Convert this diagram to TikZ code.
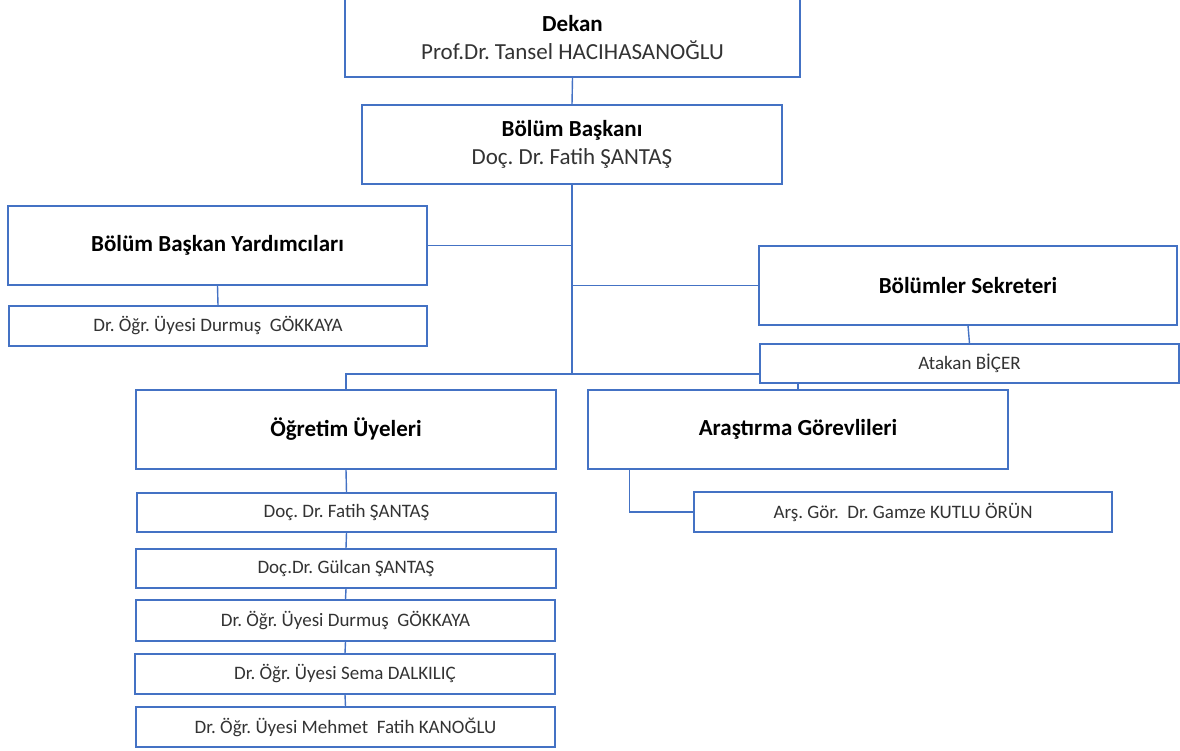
\documentclass[tikz,border=0pt]{standalone}
\usepackage{fontspec}
\setmainfont{Carlito}
\usetikzlibrary{backgrounds}
\definecolor{ofblue}{HTML}{4472C4}
\definecolor{txt}{HTML}{333333}
\newcommand{\hdtext}[1]{\textcolor{black}{\textbf{#1}}}
\frenchspacing
\tikzset{
  box/.style={draw=ofblue, line width=1.4pt, fill=white, rectangle, inner sep=0pt, align=center, text=txt},
  bigbox/.style={box, minimum height=79pt},
  smallbox/.style={box, minimum height=40pt, font=\fontsize{19}{22}\selectfont},
  head/.style={font=\fontsize{23}{28}\selectfont},
  conn/.style={draw=ofblue, line width=1.4pt}
}
\begin{document}
\begin{tikzpicture}[x=1pt,y=-1pt]
\frenchspacing
\useasboundingbox (0,0) rectangle (1180,751);
% main boxes
\node[bigbox, head, minimum width=455pt, minimum height=78pt] (dekan) at (572.5,38) {\hdtext{Dekan}\\Prof.Dr. Tansel HACIHASANOĞLU};
\node[bigbox, head, minimum width=420pt] (bb) at (572,144.5) {\hdtext{Bölüm Başkanı}\\Doç. Dr. Fatih ŞANTAŞ};
\node[bigbox, head, minimum width=419pt] (bby) at (217.5,245.5) {\hdtext{Bölüm Başkan Yardımcıları}};
\node[smallbox, minimum width=418pt] (bbyd) at (218,326) {Dr. Öğr. Üyesi Durmuş\ \ GÖKKAYA};
\node[bigbox, head, minimum width=418pt] (bs) at (968,285.5) {\hdtext{Bölümler Sekreteri}};
\node[smallbox, minimum width=419pt, minimum height=39pt] (atakan) at (969.5,363.5) {Atakan BİÇER};
\node[bigbox, head, minimum width=420pt] (ou) at (346,429.5) {\hdtext{Öğretim Üyeleri}};
\node[bigbox, head, minimum width=420pt] (ag) at (798,429.5) {\hdtext{Araştırma Görevlileri}};
\node[smallbox, minimum width=418pt] (gamze) at (903,512) {Arş. Gör.\ \ Dr. Gamze KUTLU ÖRÜN};
\node[smallbox, minimum width=419pt, minimum height=39pt] (m1) at (346.5,512.5) {Doç. Dr. Fatih ŞANTAŞ};
\node[smallbox, minimum width=420pt, minimum height=39pt] (m2) at (346,568.5) {Doç.Dr.\ Gülcan ŞANTAŞ};
\node[smallbox, minimum width=419pt, minimum height=41pt] (m3) at (345.5,620.5) {Dr. Öğr. Üyesi Durmuş\ \ GÖKKAYA};
\node[smallbox, minimum width=420pt] (m4) at (345,674) {Dr. Öğr. Üyesi Sema DALKILIÇ};
\node[smallbox, minimum width=419pt] (m5) at (345.5,727) {Dr. Öğr. Üyesi Mehmet\ \ Fatih KANOĞLU};
\coordinate (bar) at (572,374);
\begin{scope}[on background layer]
\draw[conn] (dekan.south) -- (bb.north);
\draw[conn] (bb.south) -- (bar);
\draw[conn] (bby.east) -- (bby.east -| bb.south);
\draw[conn] (bs.west) -- (bs.west -| bb.south);
\draw[conn] (bby.south) -- (bbyd.north);
\draw[conn] (bs.south) -- (atakan.north);
\draw[conn] (ou.north) |- (bar) -| (ag.north);
\draw[conn] ([xshift=42pt]ag.south west) |- (gamze.west);
\draw[conn] (ou.south) -- (m1.north);
\draw[conn] (m1.south) -- (m2.north);
\draw[conn] (m2.south) -- (m3.north);
\draw[conn] (m3.south) -- (m4.north);
\draw[conn] (m4.south) -- (m5.north);
\end{scope}
\end{tikzpicture}
\end{document}
